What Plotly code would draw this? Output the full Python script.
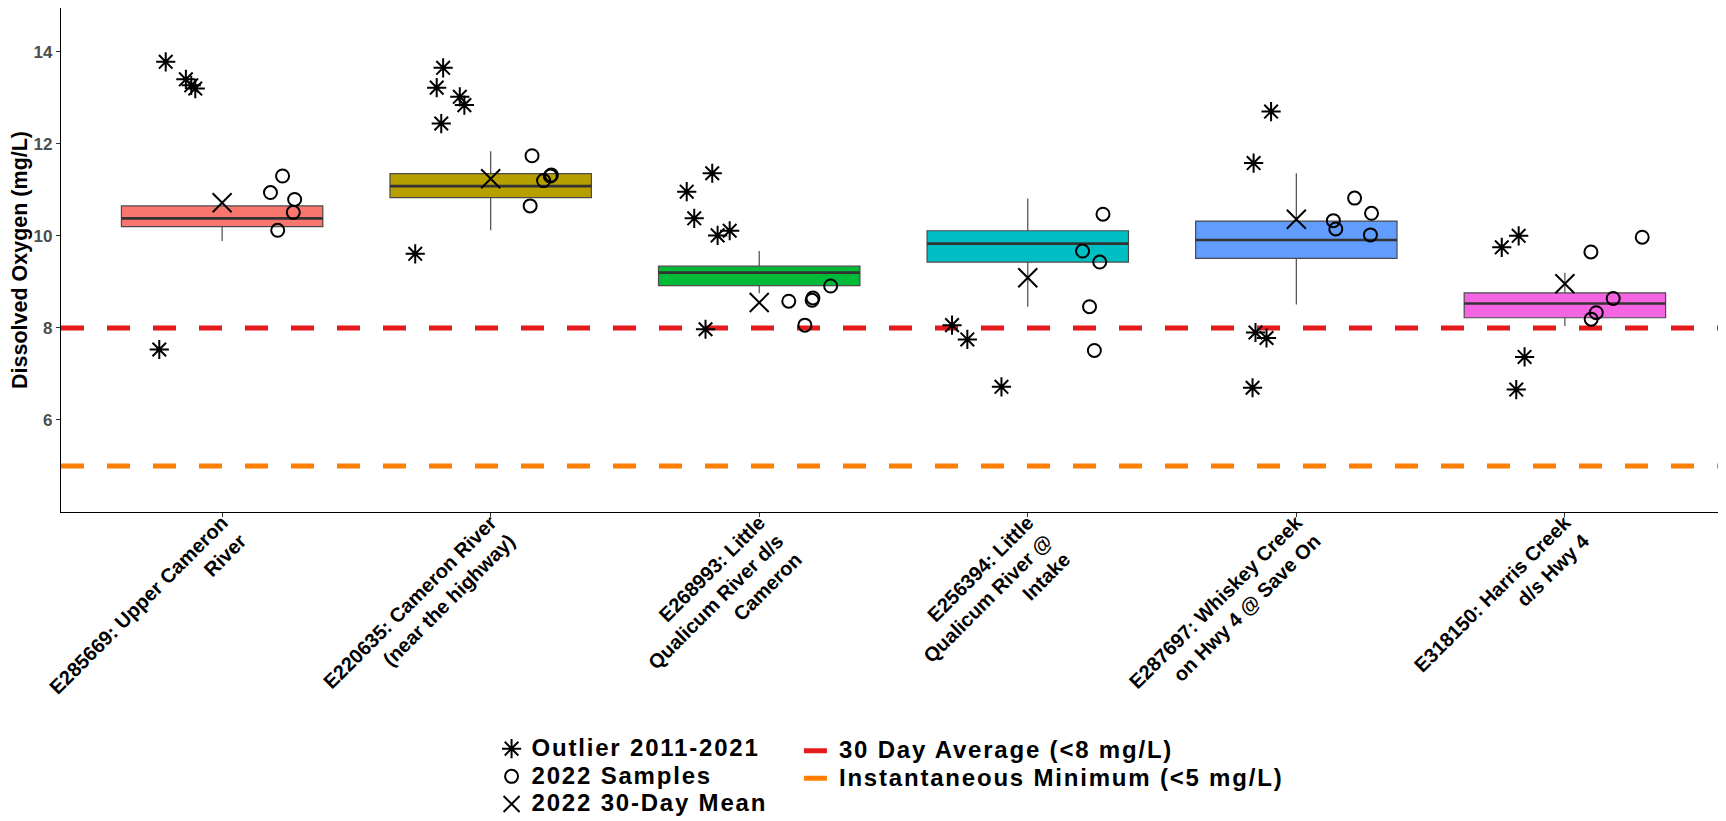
import plotly.graph_objects as go

# ---------------- data ----------------
stations = [
    "E285669: Upper Cameron<br>River",
    "E220635: Cameron River<br>(near the highway)",
    "E268993: Little<br>Qualicum River d/s<br>Cameron",
    "E256394: Little<br>Qualicum River @<br>Intake",
    "E287697: Whiskey Creek<br>on Hwy 4 @ Save On",
    "E318150: Harris Creek<br>d/s Hwy 4",
]
# historical (2011-2021) box statistics
q1 = [10.20, 10.83, 8.92, 9.43, 9.51, 8.22]
median = [10.38, 11.08, 9.20, 9.83, 9.91, 8.53]
q3 = [10.65, 11.35, 9.34, 10.11, 10.32, 8.76]
lower_whisker = [9.89, 10.12, 8.75, 8.46, 8.51, 8.04]
upper_whisker = [10.65, 11.84, 9.67, 10.81, 11.36, 9.20]

# historical outliers 2011-2021
outliers = [
    [13.78, 13.40, 13.27, 13.20, 7.53],
    [13.65, 13.22, 13.02, 12.84, 12.44, 9.61],
    [11.36, 10.96, 10.38, 10.01, 10.11, 7.97],
    [8.06, 7.75, 6.72],
    [12.70, 11.58, 7.90, 7.78, 6.70],
    [10.00, 9.75, 7.37, 6.66],
]
outliers_jitter = [
    [-0.21, -0.135, -0.115, -0.10, -0.234],
    [-0.177, -0.201, -0.115, -0.098, -0.184, -0.281],
    [-0.175, -0.27, -0.242, -0.155, -0.11, -0.20],
    [-0.282, -0.225, -0.098],
    [-0.094, -0.159, -0.152, -0.111, -0.163],
    [-0.172, -0.235, -0.15, -0.181],
]

# 2022 samples
samples_2022 = [
    [10.94, 11.30, 10.79, 10.51, 10.12],
    [11.74, 11.20, 11.30, 11.32, 10.65],
    [8.58, 8.65, 8.60, 8.91, 8.06],
    [10.47, 9.67, 9.43, 8.46, 7.51],
    [10.82, 10.49, 10.33, 10.15, 10.02],
    [9.97, 9.65, 8.64, 8.33, 8.19],
]
samples_jitter = [
    [0.18, 0.225, 0.27, 0.265, 0.207],
    [0.154, 0.197, 0.222, 0.226, 0.147],
    [0.11, 0.20, 0.197, 0.266, 0.17],
    [0.28, 0.204, 0.268, 0.23, 0.248],
    [0.217, 0.28, 0.138, 0.147, 0.276],
    [0.288, 0.097, 0.18, 0.117, 0.098],
]

# 2022 30-day mean
mean_2022 = [10.72, 11.24, 8.55, 9.09, 10.36, 8.96]

# guidelines
avg_30day_limit = 8
inst_min_limit = 5

y_ticks = [6, 8, 10, 12, 14]

legend_names = [
    "Outlier 2011-2021",
    "2022 Samples",
    "2022 30-Day Mean",
    "30 Day Average (<8 mg/L)",
    "Instantaneous Minimum (<5 mg/L)",
]

# ---------------- style ----------------
box_colors = ["#F8766D", "#B79F00", "#00BA38", "#00BFC4", "#619CFF", "#F564E3"]
BOX_W = 0.75
FONT = "Liberation Sans, Arial, sans-serif"
LEG_TXT = "<span style='font-size:24px;letter-spacing:1.8px'>{}</span>"

fig = go.Figure()

idx = list(range(len(stations)))

for i in idx:
    fig.add_trace(go.Box(
        x=[i], q1=[q1[i]], median=[median[i]], q3=[q3[i]],
        lowerfence=[lower_whisker[i]], upperfence=[upper_whisker[i]],
        width=BOX_W, whiskerwidth=0, boxpoints=False,
        fillcolor=box_colors[i], line=dict(color="#4a4a4a", width=1.2),
        showlegend=False, hoverinfo="skip",
    ))
    # thicker median line
    fig.add_trace(go.Scatter(
        x=[i - BOX_W / 2, i + BOX_W / 2], y=[median[i], median[i]],
        mode="lines", line=dict(color="#333333", width=2.6),
        showlegend=False, hoverinfo="skip",
    ))

xr = [-0.6, len(stations) - 0.4]

# guideline lines
fig.add_trace(go.Scatter(
    x=xr, y=[avg_30day_limit] * 2, mode="lines",
    line=dict(color="#E41A1C", width=5, dash="23px,23px"),
    name=LEG_TXT.format(legend_names[3]), legend="legend2",
))
fig.add_trace(go.Scatter(
    x=xr, y=[inst_min_limit] * 2, mode="lines",
    line=dict(color="#FF7F00", width=5, dash="23px,23px"),
    name=LEG_TXT.format(legend_names[4]), legend="legend2",
))

# outliers
ox, oy = [], []
for i in idx:
    for v, j in zip(outliers[i], outliers_jitter[i]):
        ox.append(i + j)
        oy.append(v)
fig.add_trace(go.Scatter(
    x=ox, y=oy, mode="markers", name=LEG_TXT.format(legend_names[0]),
    marker=dict(symbol="asterisk-open", size=16, color="black",
                line=dict(color="black", width=2)),
    legend="legend",
))

# 2022 samples
sx, sy = [], []
for i in idx:
    for v, j in zip(samples_2022[i], samples_jitter[i]):
        sx.append(i + j)
        sy.append(v)
fig.add_trace(go.Scatter(
    x=sx, y=sy, mode="markers", name=LEG_TXT.format(legend_names[1]),
    marker=dict(symbol="circle-open", size=13, color="black",
                line=dict(color="black", width=2)),
    legend="legend",
))

# 2022 mean
fig.add_trace(go.Scatter(
    x=idx, y=mean_2022, mode="markers", name=LEG_TXT.format(legend_names[2]),
    marker=dict(symbol="x-thin-open", size=19, color="black",
                line=dict(color="black", width=2)),
    legend="legend",
))

fig.update_layout(
    width=1726, height=821,
    margin=dict(l=53, r=8, t=0, b=317, autoexpand=False),
    plot_bgcolor="white", paper_bgcolor="white",
    font=dict(family=FONT, color="black"),
    showlegend=True,
    legend=dict(
        x=0.2586, y=-0.4321, xanchor="left", yanchor="top",
        font=dict(size=19, family=FONT, color="black", weight="bold"),
        bgcolor="rgba(0,0,0,0)", itemwidth=30,
    ),
    legend2=dict(
        x=0.4432, y=-0.4361, xanchor="left", yanchor="top",
        font=dict(size=19, family=FONT, color="black", weight="bold"),
        bgcolor="rgba(0,0,0,0)", itemwidth=30,
    ),
    xaxis=dict(
        range=xr, tickmode="array", tickvals=idx, ticktext=stations,
        tickangle=-45, showgrid=False, zeroline=False,
        showline=True, linecolor="black", linewidth=1.3,
        ticks="outside", ticklen=4, tickcolor="#333333",
        ticklabelstandoff=-14,
        tickfont=dict(size=20, family=FONT, color="black", weight="bold"),
    ),
    yaxis=dict(
        range=[4, 14.95], tickmode="array", tickvals=y_ticks,
        showgrid=False, zeroline=False,
        showline=True, linecolor="black", linewidth=1.3,
        ticks="outside", ticklen=4, tickcolor="#333333",
        tickfont=dict(size=17, family=FONT, color="#4D4D4D", weight="bold"),
        title=dict(text="Dissolved Oxygen (mg/L)", standoff=0,
                   font=dict(size=21.5, family=FONT, color="black", weight="bold")),
    ),
)

fig.write_html("out.html")
